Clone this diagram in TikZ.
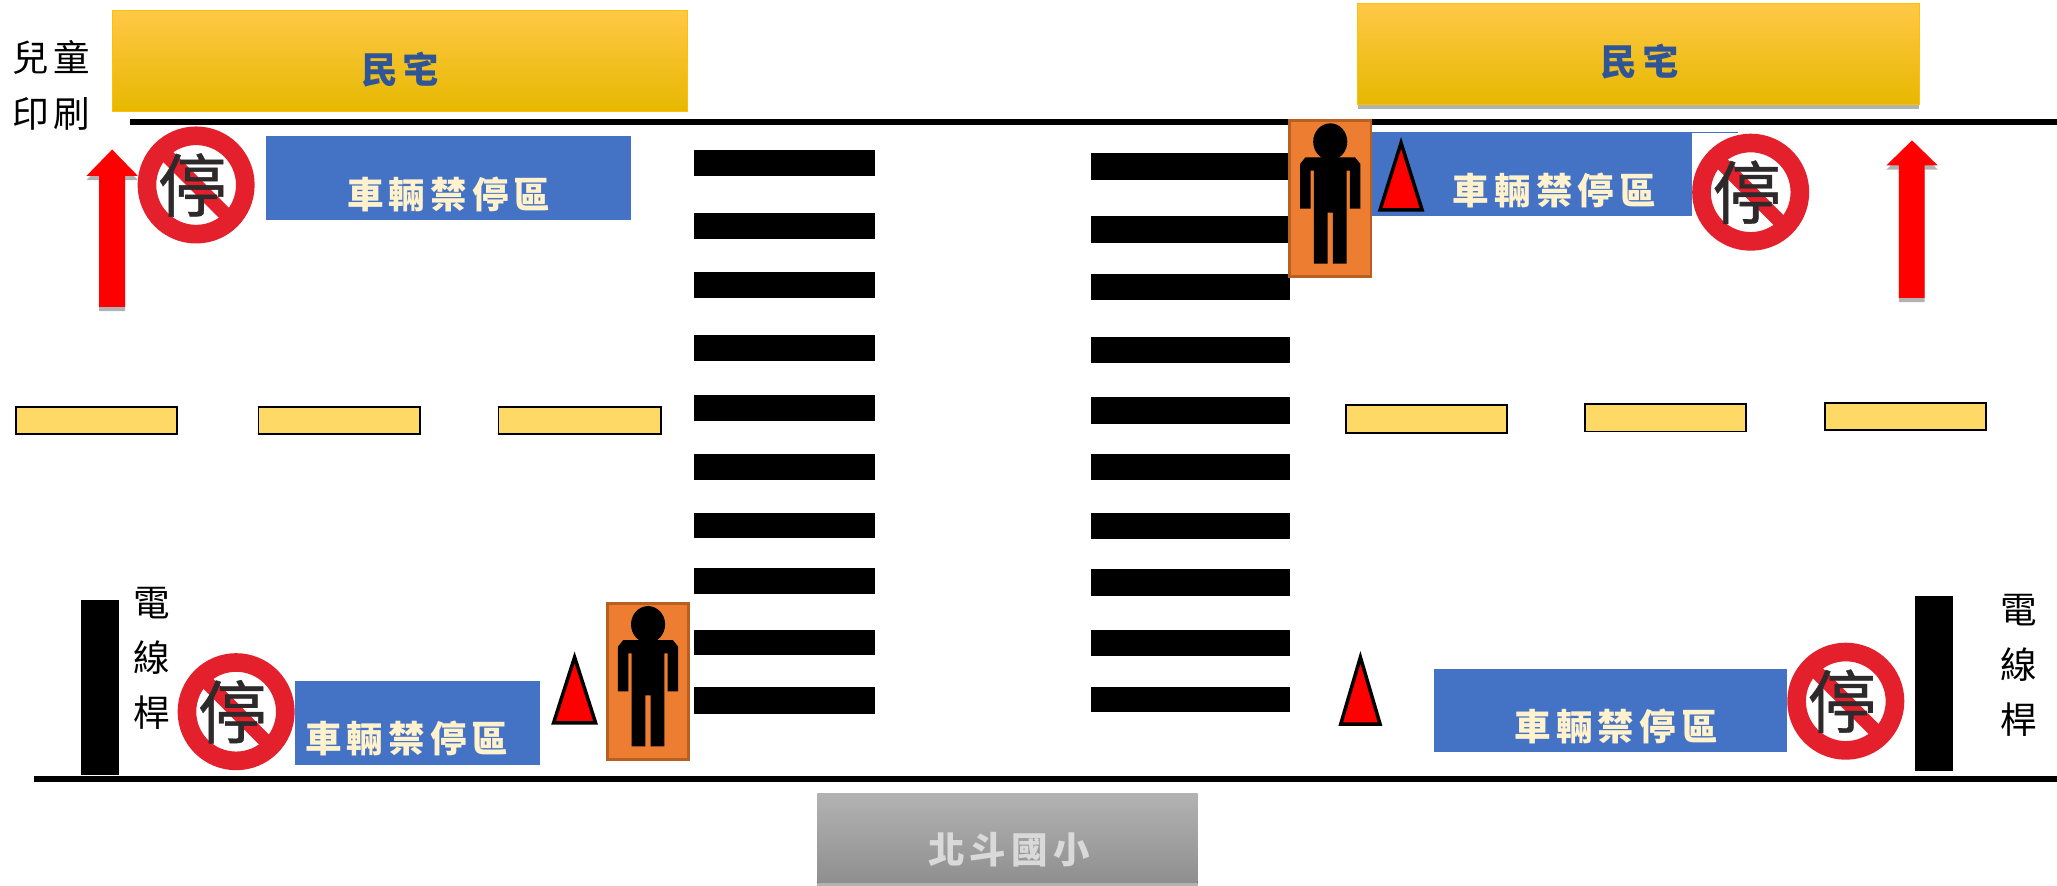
\documentclass[tikz,border=0pt]{standalone}
\usepackage{fontspec}
\usepackage{xcolor}
\newfontfamily\cjk{Noto Sans CJK TC}
\newfontfamily\cjkwide[LetterSpace=14]{Noto Sans CJK TC}
\newfontfamily\cjksign[FakeBold=0.6]{Noto Sans CJK TC}
\usetikzlibrary{shadows}
\definecolor{parkblue}{HTML}{4472C4}
\definecolor{parktext}{HTML}{FFF2CC}
\definecolor{housetext}{HTML}{2F5597}
\definecolor{housetop}{HTML}{FFC846}
\definecolor{housemid}{HTML}{FFC000}
\definecolor{houselow}{HTML}{E6B800}
\definecolor{dashyellow}{HTML}{FFD966}
\definecolor{signred}{HTML}{E4202C}
\definecolor{signink}{HTML}{2E2A2B}
\definecolor{walkorange}{HTML}{ED7D31}
\definecolor{walkedge}{HTML}{B85F22}
\tikzset{
  softshadow/.style={drop shadow={shadow xshift=0pt,shadow yshift=-1.2pt,fill=black,opacity=0.3}},
  house/.style={draw=housemid,line width=0.3pt,top color=housetop,middle color=housemid,bottom color=houselow},
  parkzone/.style={fill=parkblue},
  parklabel/.style={font=\cjkwide\bfseries\fontsize{10.4}{12}\selectfont,text=parktext,inner sep=0pt},
  houselabel/.style={font=\cjkwide\bfseries\fontsize{10.4}{12}\selectfont,text=housetext,inner sep=0pt},
  blacklabel/.style={font=\cjkwide\fontsize{10.4}{16}\selectfont,align=center,inner sep=0pt},
  road/.style={line width=1.7pt},
  zebra/.style={fill=black},
  dashline/.style={draw=black,line width=0.5pt,fill=dashyellow},
  pole/.style={fill=black},
  cone/.style={draw=black,line width=1pt,fill=red,miter limit=20},
  uparrow/.style={fill=red,softshadow},
  stopsign/.pic={
    \fill[white] (-45,-45) rectangle (45,45);
    \draw[signred,line width=5.3pt] (0,0) circle (37.5);
    \draw[signred,line width=4pt] (-25,-25) -- (25,25);
    \node[font=\cjksign\fontsize{19.5}{20}\selectfont,text=signink,inner sep=0pt] (-glyph) at (-3,0) {停};
  },
  walker/.pic={
    \draw[fill=walkorange,draw=walkedge,line width=0.8pt] (-31,0) rectangle (31,119);
    \fill[black] (0,16) ellipse (13 and 14);
    \fill[black] (-19,28) -- (19,28) -- (23,33) -- (23,67) -- (15,67) -- (15,38) -- (12.5,38)
      -- (12.5,109) -- (2,109) -- (2,70) -- (-2,70) -- (-2,109) -- (-12.5,109) -- (-12.5,38)
      -- (-15,38) -- (-15,67) -- (-23,67) -- (-23,33) -- cycle;
  }
}
\begin{document}
\begin{tikzpicture}[x=0.1312mm,y=-0.1312mm]
  \useasboundingbox (0,0) rectangle (1568,675);
  % buildings
  \fill[house] (86,8) rectangle (524,85);
  \fill[house,softshadow] (1035,3) rectangle (1463,80);
  \node[houselabel] (homeL) at (305,53) {民宅};
  \node[houselabel] (homeR) at (1250,47) {民宅};
  \node[blacklabel] (printshop) at (39,65) {兒童\\印刷};
  % road edges
  \draw[road] (99,93) -- (1568,93);
  \draw[road] (26,594) -- (1568,594);
  % crossing, left side
  \fill[zebra] (529,114) rectangle (667,134);
  \fill[zebra] (529,162) rectangle (667,182);
  \fill[zebra] (529,207) rectangle (667,227);
  \fill[zebra] (529,255) rectangle (667,275);
  \fill[zebra] (529,301) rectangle (667,321);
  \fill[zebra] (529,346) rectangle (667,366);
  \fill[zebra] (529,391) rectangle (667,410);
  \fill[zebra] (529,433) rectangle (667,453);
  \fill[zebra] (529,480) rectangle (667,499);
  \fill[zebra] (529,524) rectangle (667,544);
  % crossing, right side
  \fill[zebra] (832,117) rectangle (983,137);
  \fill[zebra] (832,165) rectangle (983,185);
  \fill[zebra] (832,209) rectangle (983,229);
  \fill[zebra] (832,257) rectangle (983,277);
  \fill[zebra] (832,303) rectangle (983,323);
  \fill[zebra] (832,346) rectangle (983,366);
  \fill[zebra] (832,391) rectangle (983,411);
  \fill[zebra] (832,434) rectangle (983,454);
  \fill[zebra] (832,480) rectangle (983,500);
  \fill[zebra] (832,524) rectangle (983,543);
  % centre line
  \filldraw[dashline] (12,310) rectangle (135,331);
  \filldraw[dashline] (197,310) rectangle (320,331);
  \filldraw[dashline] (380,310) rectangle (504,331);
  \filldraw[dashline] (1026,309) rectangle (1149,330);
  \filldraw[dashline] (1208,308) rectangle (1331,329);
  \filldraw[dashline] (1391,307) rectangle (1514,328);
  % no parking zones
  \fill[parkzone] (203,104) rectangle (481,168);
  \fill[white] (1044,96) rectangle (1325,168);
  \fill[parkzone] (1046,101) rectangle (1325,165);
  \fill[parkzone] (225,519) rectangle (412,583);
  \fill[parkzone] (1093,510) rectangle (1362,573);
  \pic (signA) at (149.5,141) {stopsign};
  \pic (signB) at (1334.5,146.5) {stopsign};
  \pic (signC) at (180,542.5) {stopsign};
  \pic (signD) at (1407,534.5) {stopsign};
  \node[parklabel] (zoneA) at (342,148) {車輛禁停區};
  \node[parklabel] (zoneB) at (1185,145) {車輛禁停區};
  \node[parklabel] (zoneC) at (310,563) {車輛禁停區};
  \node[parklabel] (zoneD) at (1232,554) {車輛禁停區};
  % traffic direction
  \fill[uparrow] (85.5,114) -- (105,134) -- (95.3,134) -- (95.3,234) -- (75.5,234) -- (75.5,134) -- (66,134) -- cycle;
  \fill[uparrow] (1457.5,107) -- (1477,126) -- (1467,126) -- (1467,227) -- (1447.5,227) -- (1447.5,126) -- (1438,126) -- cycle;
  % poles
  \fill[pole] (62,457) rectangle (91,591);
  \fill[pole] (1460,454) rectangle (1489,588);
  \node[blacklabel,font=\cjk\fontsize{10.4}{15.7}\selectfont] (poleL) at (116,502) {電\\線\\桿};
  \node[blacklabel,font=\cjk\fontsize{10.4}{15.7}\selectfont] (poleR) at (1539,507) {電\\線\\桿};
  % walkers and cones
  \pic (walkerA) at (1014,92) {walker};
  \pic (walkerB) at (494,460) {walker};
  \filldraw[cone] (1068,109) -- (1084,160) -- (1052,160) -- cycle;
  \filldraw[cone] (438,501) -- (454,551) -- (422,551) -- cycle;
  \filldraw[cone] (1037,501) -- (1052,552) -- (1022,552) -- cycle;
  % school
  \fill[top color=black!30,bottom color=black!44,softshadow] (623,605) rectangle (913,673);
  \node[font=\cjkwide\bfseries\fontsize{10.4}{12}\selectfont,text=black!15,inner sep=0pt] (school) at (769,648) {北斗國小};
\end{tikzpicture}
\end{document}
